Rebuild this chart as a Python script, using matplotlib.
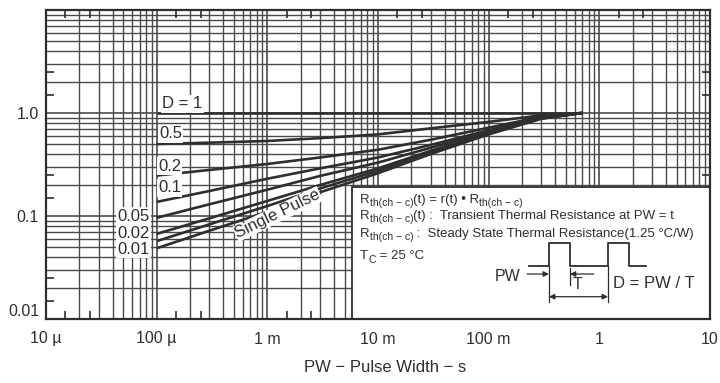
import numpy as np
import matplotlib.pyplot as plt
from matplotlib.ticker import FixedLocator, FixedFormatter, NullFormatter
from matplotlib.patches import Rectangle

# ---- data ----
pw = [1e-4, 3e-4, 1e-3, 3e-3, 1e-2, 3e-2, 1e-1, 3e-1, 0.7]
r_d1 = [1.0, 1.0, 1.0, 1.0, 1.0, 1.0, 1.0, 1.0, 1.0]
r_d05 = [0.50, 0.515, 0.535, 0.57, 0.62, 0.71, 0.82, 0.95, 1.0]
r_d02 = [0.247, 0.28, 0.32, 0.37, 0.44, 0.55, 0.72, 0.92, 1.0]
r_d01 = [0.137, 0.175, 0.23, 0.29, 0.37, 0.49, 0.68, 0.91, 1.0]
r_d005 = [0.096, 0.13, 0.18, 0.245, 0.33, 0.46, 0.66, 0.90, 1.0]
r_d002 = [0.067, 0.095, 0.14, 0.20, 0.29, 0.43, 0.64, 0.89, 1.0]
r_d001 = [0.057, 0.083, 0.125, 0.185, 0.275, 0.42, 0.63, 0.885, 1.0]
r_single = [0.0486, 0.072, 0.11, 0.17, 0.26, 0.40, 0.62, 0.88, 1.0]
curves = [r_d1, r_d05, r_d02, r_d01, r_d005, r_d002, r_d001, r_single]

curve_labels = ['D = 1', '0.5', '0.2', '0.1', '0.05', '0.02', '0.01']

x_decades = [1e-5, 1e-4, 1e-3, 1e-2, 1e-1, 1, 10]
x_ticklabels = ['10 µ', '100 µ', '1 m', '10 m', '100 m', '1', '10']
y_decades = [0.01, 0.1, 1, 10]
y_ticks = [0.01, 0.1, 1]
y_ticklabels = ['0.01', '0.1', '1.0']

ink = '#2e2e2e'
grid_c = '#4a4a4a'

plt.rcParams['font.family'] = ['Liberation Sans', 'DejaVu Sans']

fig = plt.figure(figsize=(7.2, 3.83), dpi=100)
ax = fig.add_axes([46 / 720, 1 - 319 / 383, 664 / 720, 309 / 383])
ax.set_xscale('log')
ax.set_yscale('log')
ax.set_xlim(1e-5, 10)
ax.set_ylim(0.01, 10)

# log grid, every 1..9 of each decade
for d in x_decades[:-1]:
    for k in range(1, 10):
        ax.axvline(k * d, color=grid_c, lw=1.2 if k == 1 else 1.0, zorder=1)
for d in y_decades[:-1]:
    for k in range(1, 10):
        ax.axhline(k * d, color=grid_c, lw=1.2 if k == 1 else 1.0, zorder=1)

# ticks: labelled decades, small inward ticks at 1.5 and 2.5
ax.xaxis.set_major_locator(FixedLocator(x_decades))
ax.xaxis.set_major_formatter(FixedFormatter(x_ticklabels))
ax.yaxis.set_major_locator(FixedLocator(y_ticks))
ax.yaxis.set_major_formatter(FixedFormatter(y_ticklabels))
ax.xaxis.set_minor_locator(FixedLocator([s * d for d in x_decades[:-1] for s in (1.5, 2.5)]))
ax.yaxis.set_minor_locator(FixedLocator([s * d for d in y_decades[:-1] for s in (1.5, 2.5)]))
ax.xaxis.set_minor_formatter(NullFormatter())
ax.yaxis.set_minor_formatter(NullFormatter())
ax.tick_params(which='major', length=0, labelsize=11.5, labelcolor=ink)
ax.tick_params(axis='x', which='major', pad=9)
ax.tick_params(axis='y', which='major', pad=5)
ax.tick_params(which='minor', direction='in', length=6, width=1.2, color=ink,
               top=True, right=True)
ax.get_yticklabels()[0].set_va('bottom')
for s in ax.spines.values():
    s.set_linewidth(1.6)
    s.set_color(ink)
    s.set_zorder(5)

for r in curves:
    ax.plot(pw, r, color=ink, lw=1.9, solid_capstyle='butt', zorder=3)

# curve labels
box = dict(fc='white', ec='none', pad=1.0)
lab_pos = [(0.1747, 0.696, 'left'), (0.170, 0.599, 'left'), (0.1687, 0.495, 'left'),
           (0.1687, 0.424, 'left'), (0.1566, 0.333, 'right'), (0.1566, 0.278, 'right'),
           (0.1566, 0.2265, 'right')]
for txt, (xa, ya, ha) in zip(curve_labels, lab_pos):
    ax.text(xa, ya, txt, transform=ax.transAxes, ha=ha, va='center', fontsize=12,
            color=ink, bbox=box, zorder=4)
ax.text(0.349, 0.34, 'Single Pulse', transform=ax.transAxes, ha='center', va='center',
        fontsize=12, color=ink, rotation=26, bbox=dict(fc='white', ec='none', pad=0.5),
        zorder=4)

# note box
ax.add_patch(Rectangle((0.461, 0.0), 0.539, 0.427, transform=ax.transAxes,
                       fc='white', ec=ink, lw=1.3, zorder=4))


def chain(parts, xa, ya):
    # parts: (text, fontsize, vertical offset in points); placed one after another
    base = ax.text(xa, ya, parts[0][0], transform=ax.transAxes, ha='left', va='bottom',
                   fontsize=parts[0][1], color=ink, zorder=6)
    prev = base
    for txt, fs, dy in parts[1:]:
        prev = ax.annotate(txt, xy=(1, 0), xycoords=(prev, base), xytext=(0, dy),
                           textcoords='offset points', ha='left', va='bottom',
                           fontsize=fs, color=ink, zorder=6)


sub = 'th(ch − c)'
chain([('R', 9.5, 0), (sub, 7.5, -2), ('(t) = r(t) • R', 9.5, 0), (sub, 7.5, -2)],
      0.473, 0.367)
chain([('R', 9.5, 0), (sub, 7.5, -2), ('(t) :  Transient Thermal Resistance at PW = t', 9.5, 0)],
      0.473, 0.315)
chain([('R', 9.5, 0), (sub, 7.5, -2), (' :  Steady State Thermal Resistance(1.25 °C/W)', 9.5, 0)],
      0.473, 0.257)
chain([('T', 9.5, 0), ('C', 7.5, -2), (' = 25 °C', 9.5, 0)], 0.473, 0.183)

# pulse train sketch
px = [0.7274, 0.7575, 0.7575, 0.789, 0.789, 0.8464, 0.8464, 0.878, 0.878, 0.9036]
py = [0.1715, 0.1715, 0.246, 0.246, 0.1715, 0.1715, 0.246, 0.246, 0.1715, 0.1715]
ax.plot(px, py, color=ink, lw=1.3, transform=ax.transAxes, zorder=6)
ax.plot([0.7575, 0.7575], [0.1715, 0.055], color=ink, lw=0.9, transform=ax.transAxes, zorder=6)
ax.plot([0.8464, 0.8464], [0.1715, 0.055], color=ink, lw=0.9, transform=ax.transAxes, zorder=6)
ax.plot([0.789, 0.789], [0.165, 0.11], color=ink, lw=0.9, transform=ax.transAxes, zorder=6)
arr = dict(arrowstyle='-|>', color=ink, lw=0.9, mutation_scale=8, shrinkA=0, shrinkB=0)
ax.annotate('', xy=(0.7575, 0.1456), xytext=(0.7245, 0.1456), xycoords='axes fraction',
            arrowprops=arr, zorder=6)
ax.annotate('', xy=(0.789, 0.1456), xytext=(0.825, 0.1456), xycoords='axes fraction',
            arrowprops=arr, zorder=6)
ax.annotate('', xy=(0.8464, 0.0722), xytext=(0.7575, 0.0722), xycoords='axes fraction',
            arrowprops=dict(arrowstyle='<|-|>', color=ink, lw=0.9, mutation_scale=8,
                            shrinkA=0, shrinkB=0), zorder=6)
ax.text(0.714, 0.139, 'PW', transform=ax.transAxes, ha='right', va='center',
        fontsize=11.5, color=ink, zorder=6)
ax.text(0.793, 0.113, 'T', transform=ax.transAxes, ha='left', va='center',
        fontsize=11.5, color=ink, zorder=6)
ax.text(0.854, 0.1165, 'D = PW / T', transform=ax.transAxes, ha='left', va='center',
        fontsize=12, color=ink, zorder=6)

fig.text(385 / 720, 1 - 368 / 383, 'PW − Pulse Width − s', ha='center', va='center',
         fontsize=12, color=ink)

fig.savefig('out.png', dpi=100)
